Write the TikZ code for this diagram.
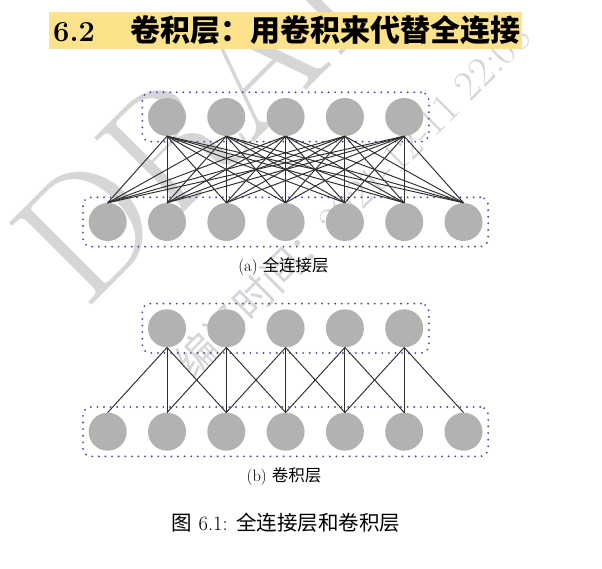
\documentclass[tikz,border=0pt]{standalone}
\usepackage{fontspec}
\newfontfamily\cjk{Noto Sans CJK SC}
\usetikzlibrary{fit}
\definecolor{nodegray}{RGB}{178,179,177}
\definecolor{boxblue}{RGB}{80,75,160}
\definecolor{titlebg}{RGB}{252,226,138}
\definecolor{wmgray}{RGB}{214,214,214}
\definecolor{edgec}{RGB}{45,45,45}
\begin{document}
\begin{tikzpicture}[x=1pt,y=-1pt,
  neuron/.style={circle,fill=nodegray,minimum size=38pt,inner sep=0pt},
  layerbox/.style={draw=boxblue,line width=2.1pt,dash pattern=on 0pt off 6.6pt,line cap=round,rounded corners=8pt,inner sep=5.5pt},
  conn/.style={draw=edgec,line width=0.95pt},
  wm/.style={text=wmgray,inner sep=0pt,anchor=base west,rotate=45},
  captext/.style={inner sep=0pt,text=black}]
\useasboundingbox (0,0) rectangle (602,569);
\fill[white] (0,0) rectangle (602,569);
% watermarks
\node[wm,font=\fontsize{170}{170}\selectfont] (draft) at (85,312) {DRAFT};
\node[wm,font=\fontsize{42}{42}\selectfont] (stamp) at (193.5,379.7) {{\cjk\fontsize{40}{40}\selectfont 编译时间：}2021-12-11 22:08};
% title
\node[fill=titlebg,minimum width=473pt,minimum height=37pt,anchor=north west,inner sep=0pt] (band) at (49,12) {};
\node[anchor=base west,inner sep=0pt,font=\bfseries\fontsize{29}{29}\selectfont] (secnum) at (53,42) {6.2};
\node[anchor=base west,inner sep=0pt,font=\cjk\bfseries\fontsize{30}{30}\selectfont] (sectitle) at (130,42) {卷积层：用卷积来代替全连接};
% (a) fully connected
\foreach \j in {0,...,6} \node[neuron] (ab\j) at ({107.7+59.3*\j},222) {};
\foreach \i in {1,...,5} \node[neuron] (at\i) at ({107.7+59.3*\i},117) {};
\node[layerbox,fit=(at1)(at5)] (atbox) {};
\node[layerbox,fit=(ab0)(ab6)] (abbox) {};
\foreach \i in {1,...,5} \foreach \j in {0,...,6} \draw[conn] (at\i.south) -- (ab\j.north);
\node[captext,font=\fontsize{16.5}{16.5}\selectfont] (capa) at (283.5,267) {(a) {\cjk 全连接层}};
% (b) convolutional
\foreach \j in {0,...,6} \node[neuron] (bb\j) at ({107.7+59.3*\j},431.7) {};
\foreach \i in {1,...,5} \node[neuron] (bt\i) at ({107.7+59.3*\i},328.3) {};
\node[layerbox,fit=(bt1)(bt5)] (btbox) {};
\node[layerbox,fit=(bb0)(bb6)] (bbbox) {};
\foreach \i in {1,...,5} {
  \pgfmathtruncatemacro\ja{\i-1}
  \pgfmathtruncatemacro\jc{\i+1}
  \foreach \j in {\ja,\i,\jc} \draw[conn] (bt\i.south) -- (bb\j.north);
}
\node[captext,font=\fontsize{16.5}{16.5}\selectfont] (capb) at (284,477) {(b) {\cjk 卷积层}};
% figure caption
\node[captext,font=\fontsize{20.5}{20.5}\selectfont] (figcap) at (286,523) {{\cjk 图} 6.1: {\cjk 全连接层和卷积层}};
\end{tikzpicture}
\end{document}
